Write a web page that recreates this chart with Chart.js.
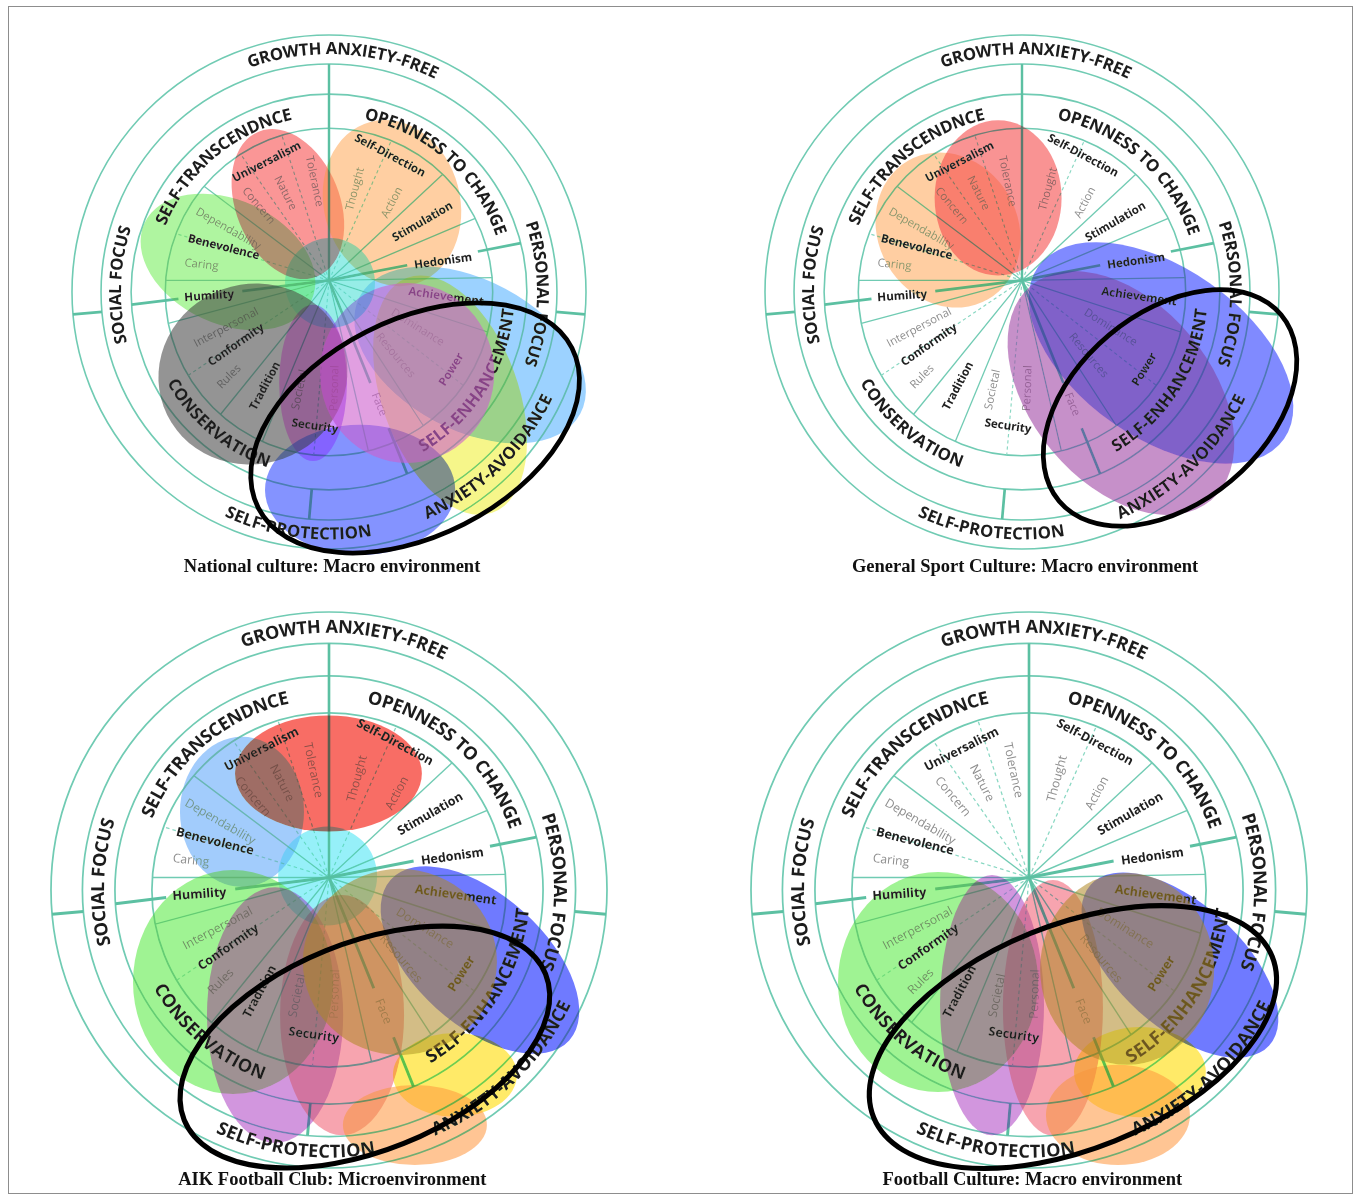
<!DOCTYPE html>
<html>
<head>
<meta charset="utf-8">
<title>Value circles</title>
<script src="https://cdn.jsdelivr.net/npm/chart.js@4.4.1/dist/chart.umd.min.js"></script>
<style>
  html, body { margin: 0; padding: 0; background: #fff; }
  #sheet { position: relative; width: 1360px; height: 1197px; overflow: hidden; }
  #sheet canvas { position: absolute; }
  #frame { position: absolute; left: 8px; top: 6px; width: 1343px; height: 1186px; border: 1px solid #8d8d8d; pointer-events: none; }
</style>
</head>
<body>
<div id="sheet">
  <canvas id="national" width="680" height="598" style="left:0;top:0"></canvas>
  <canvas id="sport" width="680" height="598" style="left:680px;top:0"></canvas>
  <canvas id="aik" width="680" height="599" style="left:0;top:598px"></canvas>
  <canvas id="football" width="680" height="599" style="left:680px;top:598px"></canvas>
  <div id="frame"></div>
</div>
<script>
// ---- the value wheel, in units where the outer ring has radius 100 ----
const RINGS = [63.7, 77, 88.7, 100];
const HUB_LIFT = 4.5; // spokes meet a little above the ring centre

// sub-sector boundaries (degrees, counter-clockwise from 3 o'clock, seen from the hub)
const SOLID_SPOKES = [1, 23, 43, 143, 180, 195, 231, 247.5, 283, 303, 342];
const DASHED_SPOKES = [66, 108, 125, 163, 214, 265, 322];

// values lying on a boundary get a heavy line, broken where the word sits
const AXIS_ANGLE = [187, 11, 292];
const AXIS_GAP = [[34, 59], [31, 59], [43, 62]];

// dividers in the outer bands (measured from the ring centre)
const DIVIDER_ANGLE = [185, 355, 265];
const DIVIDER_FROM = [88.7, 88.7, 77];
const DIVIDER_TO = [100, 100, 88.7];

// the values and sub-values
const VALUE_NAMES = ['Universalism', 'Tolerance', 'Nature', 'Concern', 'Dependability', 'Benevolence', 'Caring',
  'Humility', 'Interpersonal', 'Conformity', 'Rules', 'Tradition', 'Societal', 'Security', 'Personal', 'Face',
  'Resources', 'Dominance', 'Power', 'Achievement', 'Hedonism', 'Stimulation', 'Action', 'Thought', 'Self-Direction'];
const VALUE_ANGLE = [117.7, 98.5, 116.6, 133.4, 153, 162.6, 173, 187.5, 204.7, 214.8, 224, 238.9, 255, 264.5, 273, 292,
  311.5, 332, 324, 352, 9.5, 32, 51, 74, 64];
const VALUE_DIST = [52, 39, 38, 40, 44, 43, 50, 47, 44, 44, 54, 48, 44, 57, 42, 52, 39, 39, 59, 46, 45, 43, 39, 37, 54];
const VALUE_TILT = [-27, 78, 63, 50, 30, 14, 6, -4, -28, -35, -45, -62, -78, 8, -88, 68, 50, 32, -58, 8, -8, -30, -62, -75, 28];
const VALUE_MAIN = [1, 0, 0, 0, 0, 1, 0, 1, 0, 1, 0, 1, 0, 1, 0, 0, 0, 0, 1, 1, 1, 1, 0, 0, 1];

// higher order values and focus bands, written along the rings
const BAND_NAMES = ['GROWTH ANXIETY-FREE', 'SELF-PROTECTION', 'ANXIETY-AVOIDANCE', 'SOCIAL FOCUS', 'PERSONAL FOCUS',
  'SELF-TRANSCENDNCE', 'OPENNESS TO CHANGE', 'SELF-ENHANCEMENT', 'CONSERVATION'];
const BAND_ANGLE = [86.5, 262.5, 314, 178, 359.5, 130, 48.5, 327.5, 230];
const BAND_RADIUS = [94.4, 94.4, 94.4, 82.8, 82.8, 70.4, 70.4, 70.4, 70.4];
const BAND_OUTWARD = [1, 0, 0, 1, 1, 1, 1, 0, 0];

// ---- highlighted areas per environment: centre x, centre y, half-axes, tilt (deg) ----
// National culture: Macro environment
const nationalAreas = ['Benevolence', 'Universalism', 'Self-Direction', 'Conformity', 'Achievement', 'Face', 'Security', 'Power', 'Tradition', 'Centre'];
const nationalX = [-39.3, -16.0, 24.5, -29.6, 54.9, 47.1, 12.1, 30.4, -6.2, 0.4];
const nationalY = [11.7, 34.2, 34.6, -31.9, -24.5, -40.1, -77.0, -31.5, -35.4, 3.5];
const nationalRX = [35.8, 30.4, 32.7, 37.0, 48.6, 48.6, 37.0, 33.9, 13.2, 17.5];
const nationalRY = [24.1, 20.2, 26.5, 35.0, 29.2, 26.5, 25.3, 35.0, 30.4, 17.5];
const nationalTilt = [-25, -68, -75, 20, -28, -70, 0, 0, 0, 0];
const nationalLoop = [33.5, -52.9, 68.5, 42.0, 27];

// General Sport Culture: Macro environment
const sportAreas = ['Benevolence', 'Universalism', 'Achievement', 'Power'];
const sportX = [-28.8, -9.3, 54.1, 38.5];
const sportY = [24.1, 36.6, -23.7, -39.3];
const sportRX = [31.1, 24.7, 58.4, 54.5];
const sportRY = [27.2, 30.2, 33.1, 35.0];
const sportTilt = [-60, 0, -35, -50];
const sportLoop = [57.6, -45.1, 56.4, 37.0, 40];

// AIK Football Club: Microenvironment
const aikAreas = ['Universalism', 'Benevolence', 'Centre', 'Conservation', 'Security', 'Face', 'Achievement', 'Power', 'Anxiety-avoidance', 'Self-protection'];
const aikX = [-0.2, -31.3, -0.5, -34.5, -19.4, 4.7, 54.3, 25.5, 45.3, 30.9];
const aikY = [41.9, 28.1, 5.0, -33.1, -45.0, -45.0, -25.2, -25.9, -66.5, -84.5];
const aikRX = [33.6, 22.3, 17.8, 36.0, 24.5, 22.3, 43.2, 34.9, 22.3, 25.9];
const aikRY = [20.9, 27.0, 17.8, 40.3, 46.0, 43.2, 23.4, 33.5, 15.1, 14.4];
const aikTilt = [0, 0, 0, 0, 0, 0, -42, 0, 0, 0];
const aikLoop = [12.9, -56.5, 70.1, 37.4, 22];

// Football Culture: Macro environment
const footballAreas = ['Conservation', 'Security', 'Face', 'Achievement', 'Power', 'Anxiety-avoidance', 'Self-protection'];
const footballX = [-32.7, -13.3, 8.6, 54.3, 35.3, 39.9, 32.0];
const footballY = [-33.1, -41.4, -42.4, -27.0, -28.4, -65.5, -80.9];
const footballRX = [36.0, 18.7, 18.0, 43.2, 31.3, 23.7, 25.9];
const footballRY = [39.6, 46.8, 46.0, 22.3, 34.5, 16.2, 18.0];
const footballTilt = [0, 0, 0, -42, 0, 0, 0];
const footballLoop = [15.8, -52.9, 77.3, 40.3, 22];

const CAPTIONS = ['National culture: Macro environment', 'General Sport Culture: Macro environment',
  'AIK Football Club: Microenvironment', 'Football Culture: Macro environment'];

// ---- styles ----
const TEAL = '#70cbb3';
const TEAL_DARK = '#5cc0a2';
const nationalTints = ['rgba(110,237,82,0.55)', 'rgba(247,80,80,0.6)', 'rgba(255,160,70,0.5)', 'rgba(60,60,60,0.55)',
  'rgba(90,180,255,0.6)', 'rgba(240,240,60,0.6)', 'rgba(50,75,255,0.6)', 'rgba(205,95,205,0.6)', 'rgba(170,60,255,0.55)',
  'rgba(80,225,215,0.6)'];
const sportTints = ['rgba(255,165,85,0.55)', 'rgba(245,75,75,0.6)', 'rgba(60,75,255,0.65)', 'rgba(160,70,165,0.6)'];
const aikTints = ['rgba(245,60,50,0.75)', 'rgba(100,170,250,0.6)', 'rgba(80,230,245,0.6)', 'rgba(95,235,75,0.6)',
  'rgba(180,80,200,0.6)', 'rgba(240,90,110,0.55)', 'rgba(50,65,255,0.7)', 'rgba(175,135,35,0.55)',
  'rgba(255,225,40,0.7)', 'rgba(255,150,60,0.55)'];
const footballTints = ['rgba(95,235,75,0.6)', 'rgba(180,80,200,0.6)', 'rgba(240,90,110,0.55)', 'rgba(50,65,255,0.7)',
  'rgba(175,135,35,0.55)', 'rgba(255,225,40,0.7)', 'rgba(255,150,60,0.55)'];
// areas painted over what lies beneath (the rest darken it, so piled-up overlaps stay readable)
const nationalPlain = ['Power'];
const sportPlain = [];
const aikPlain = ['Power'];
const footballPlain = ['Power'];

const panelStyle = {};

// distance from the hub along a ray until it meets a ring
function rayToRing(deg, R) {
  const dy = Math.sin(deg * Math.PI / 180);
  const hd = HUB_LIFT * dy;
  return -hd + Math.sqrt(hd * hd - HUB_LIFT * HUB_LIFT + R * R);
}

// letters placed one by one along a ring
function ringText(ctx, text, cx, cy, R, midDeg, outward) {
  const chars = [...text];
  const widths = chars.map(ch => ctx.measureText(ch).width);
  const span = widths.reduce((a, b) => a + b, 0) / R;
  const mid = -midDeg * Math.PI / 180;
  const dir = outward ? 1 : -1;
  let phi = mid - dir * span / 2;
  chars.forEach((ch, i) => {
    const half = widths[i] / 2 / R;
    phi += dir * half;
    ctx.save();
    ctx.translate(cx + R * Math.cos(phi), cy + R * Math.sin(phi));
    ctx.rotate(outward ? phi + Math.PI / 2 : phi - Math.PI / 2);
    ctx.fillText(ch, 0, 0);
    ctx.restore();
    phi += dir * half;
  });
}

const wheelPlugin = {
  id: 'valueWheel',
  beforeDraw(chart) {
    const { ctx, width, height } = chart;
    ctx.save();
    ctx.fillStyle = '#fff';
    ctx.fillRect(0, 0, width, height);
    ctx.restore();
  },
  beforeDatasetsDraw(chart) {
    const { ctx } = chart;
    const xs = chart.scales.x, ys = chart.scales.y;
    const k = xs.getPixelForValue(1) - xs.getPixelForValue(0);
    const at = (u, v) => [xs.getPixelForValue(u), ys.getPixelForValue(v)];
    const fromHub = (deg, d) => { const r = deg * Math.PI / 180; return at(d * Math.cos(r), HUB_LIFT + d * Math.sin(r)); };
    const fromCentre = (deg, d) => { const r = deg * Math.PI / 180; return at(d * Math.cos(r), d * Math.sin(r)); };
    const seg = (p, q, w, colour, dash) => {
      ctx.beginPath();
      ctx.setLineDash(dash || []);
      ctx.lineWidth = w;
      ctx.strokeStyle = colour;
      ctx.moveTo(p[0], p[1]);
      ctx.lineTo(q[0], q[1]);
      ctx.stroke();
    };
    const [cx, cy] = at(0, 0);

    ctx.save();
    ctx.lineCap = 'butt';
    ctx.strokeStyle = TEAL;
    ctx.lineWidth = 0.62 * k;
    RINGS.forEach(R => {
      ctx.beginPath();
      ctx.arc(cx, cy, R * k, 0, 2 * Math.PI);
      ctx.stroke();
    });
    SOLID_SPOKES.forEach(a => seg(fromHub(a, 0), fromHub(a, rayToRing(a, RINGS[0])), 0.5 * k, TEAL));
    DASHED_SPOKES.forEach(a => seg(fromHub(a, 0), fromHub(a, rayToRing(a, RINGS[0])), 0.45 * k, '#8ad8c3', [1.3 * k, 1.1 * k]));
    seg(fromHub(90, 0), fromHub(90, rayToRing(90, RINGS[2])), 0.95 * k, TEAL_DARK);
    AXIS_ANGLE.forEach((a, i) => {
      seg(fromHub(a, 0), fromHub(a, AXIS_GAP[i][0]), 1.05 * k, TEAL_DARK);
      seg(fromHub(a, AXIS_GAP[i][1]), fromHub(a, rayToRing(a, RINGS[1])), 1.05 * k, TEAL_DARK);
    });
    DIVIDER_ANGLE.forEach((a, i) => seg(fromCentre(a, DIVIDER_FROM[i]), fromCentre(a, DIVIDER_TO[i]), 1.05 * k, TEAL_DARK));
    ctx.setLineDash([]);

    // value names
    ctx.textAlign = 'center';
    ctx.textBaseline = 'middle';
    VALUE_NAMES.forEach((name, i) => {
      const [px, py] = fromHub(VALUE_ANGLE[i], VALUE_DIST[i]);
      ctx.save();
      ctx.translate(px, py);
      ctx.rotate(VALUE_TILT[i] * Math.PI / 180);
      ctx.font = VALUE_MAIN[i] ? `700 ${4.5 * k}px "Open Sans"` : `400 ${4.4 * k}px "Open Sans"`;
      ctx.fillStyle = VALUE_MAIN[i] ? '#1e1e1e' : '#8e8e8e';
      ctx.fillText(name, 0, 0);
      ctx.restore();
    });

    // band names along the rings
    ctx.font = `700 ${6.5 * k}px "Open Sans"`;
    ctx.fillStyle = '#1c1c1c';
    BAND_NAMES.forEach((name, i) => ringText(ctx, name, cx, cy, BAND_RADIUS[i] * k, BAND_ANGLE[i], BAND_OUTWARD[i]));
    ctx.restore();
  },
  afterDatasetsDraw(chart) {
    const style = panelStyle[chart.canvas.id];
    const { ctx } = chart;
    const xs = chart.scales.x, ys = chart.scales.y;
    const k = xs.getPixelForValue(1) - xs.getPixelForValue(0);

    // coloured areas
    const areas = chart.getDatasetMeta(0).data;
    ctx.save();
    areas.forEach((pt, i) => {
      ctx.globalCompositeOperation = style.plain.includes(style.names[i]) ? 'source-over' : 'darken';
      ctx.beginPath();
      ctx.ellipse(pt.x, pt.y, style.rx[i] * k, style.ry[i] * k, -style.tilt[i] * Math.PI / 180, 0, 2 * Math.PI);
      ctx.fillStyle = style.tints[i];
      ctx.fill();
    });
    ctx.restore();

    // hand-drawn black loop
    const loopPt = chart.getDatasetMeta(1).data[0];
    ctx.save();
    ctx.beginPath();
    ctx.ellipse(loopPt.x, loopPt.y, style.loop[2] * k, style.loop[3] * k, -style.loop[4] * Math.PI / 180, 0, 2 * Math.PI);
    ctx.lineWidth = 1.85 * k;
    ctx.strokeStyle = '#000';
    ctx.stroke();
    ctx.restore();

    // caption
    ctx.save();
    ctx.font = 'bold 18.5px "Liberation Serif"';
    ctx.fillStyle = '#111';
    ctx.textAlign = 'center';
    ctx.textBaseline = 'middle';
    ctx.fillText(style.caption, xs.getPixelForValue(1.2), ys.getPixelForValue(style.captionY));
    ctx.restore();
  }
};

function valueCircle(id, centre, radiusPx, caption, captionY, names, xs, ys, rx, ry, tilt, tints, plain, loop) {
  const canvas = document.getElementById(id);
  const s = radiusPx / 100;
  panelStyle[id] = { names, rx, ry, tilt, tints, plain, loop, caption, captionY };
  return new Chart(canvas, {
    type: 'scatter',
    data: {
      datasets: [
        { label: 'areas', data: xs.map((x, i) => ({ x, y: ys[i] })), pointRadius: 0 },
        { label: 'loop', data: [{ x: loop[0], y: loop[1] }], pointRadius: 0 }
      ]
    },
    options: {
      responsive: false,
      animation: false,
      events: [],
      layout: { padding: 0 },
      scales: {
        x: { type: 'linear', display: false, min: -centre[0] / s, max: (canvas.width - centre[0]) / s },
        y: { type: 'linear', display: false, min: -(canvas.height - centre[1]) / s, max: centre[1] / s }
      },
      plugins: { legend: { display: false }, tooltip: { enabled: false } }
    },
    plugins: [wheelPlugin]
  });
}

valueCircle('national', [329, 292], 257, CAPTIONS[0], -107, nationalAreas, nationalX, nationalY, nationalRX, nationalRY, nationalTilt, nationalTints, nationalPlain, nationalLoop);
valueCircle('sport', [342, 292], 257, CAPTIONS[1], -107, sportAreas, sportX, sportY, sportRX, sportRY, sportTilt, sportTints, sportPlain, sportLoop);
valueCircle('aik', [329, 292], 278, CAPTIONS[2], -104.3, aikAreas, aikX, aikY, aikRX, aikRY, aikTilt, aikTints, aikPlain, aikLoop);
valueCircle('football', [349, 292], 278, CAPTIONS[3], -104.3, footballAreas, footballX, footballY, footballRX, footballRY, footballTilt, footballTints, footballPlain, footballLoop);
</script>
</body>
</html>
